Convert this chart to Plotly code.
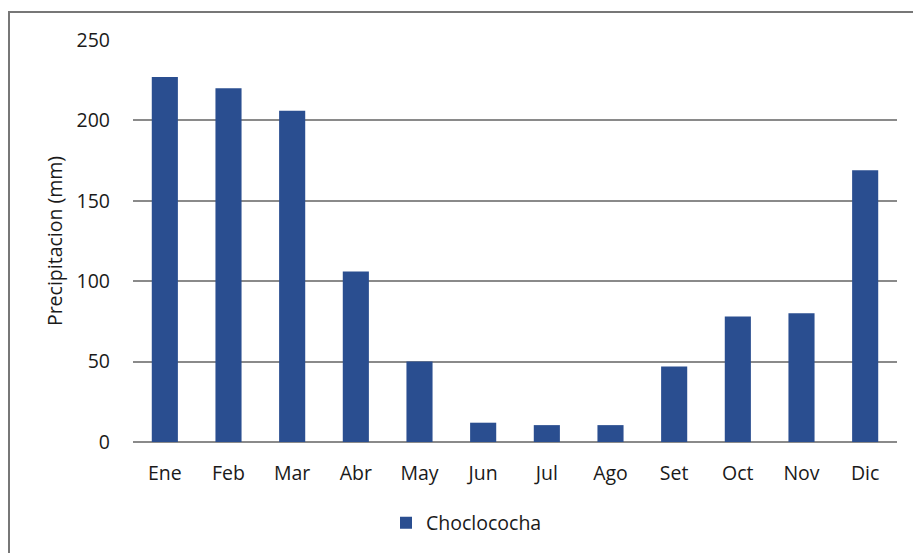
import plotly.graph_objects as go

months = ["Ene", "Feb", "Mar", "Abr", "May", "Jun", "Jul", "Ago", "Set", "Oct", "Nov", "Dic"]
precip = [227, 220, 206, 106, 50, 12, 10.5, 10.5, 47, 78, 80, 169]
series_name = "Choclococha"
y_ticks = [0, 50, 100, 150, 200, 250]

W, H = 913, 553
L, R, T, B = 133, 16, 40, 110
pw, ph = W - L - R, H - T - B

fig = go.Figure()
fig.add_trace(go.Bar(
    x=months, y=precip, name=series_name,
    marker=dict(color="#2A4E90", line=dict(width=0)),
))

font = "'Open Sans', sans-serif"
fs = 19.5
fig.update_layout(
    width=W, height=H,
    margin=dict(l=L, r=R, t=T, b=B),
    paper_bgcolor="white", plot_bgcolor="white",
    bargap=0.59,
    font=dict(family=font, size=fs, color="#1a1a1a"),
    showlegend=True,
    legend=dict(orientation="h", x=(386 - L) / pw, xanchor="left", y=-0.15, yanchor="top",
                font=dict(size=fs, color="#1a1a1a"), itemwidth=30),
    xaxis=dict(showgrid=False, showline=False, ticks="", tickfont=dict(size=fs),
               ticklabelstandoff=17),
    yaxis=dict(range=[0, 250], tickvals=y_ticks, showgrid=True, gridcolor="#8a8a8a",
               gridwidth=2, zeroline=True, zerolinecolor="#8a8a8a", zerolinewidth=2,
               showline=False, ticks="", ticklabelstandoff=22,
               title=dict(text="Precipitacion (mm)", font=dict(size=fs), standoff=8)),
    shapes=[dict(type="rect", xref="paper", yref="paper",
                 x0=(9 - L) / pw, x1=(W + 5 - L) / pw,
                 y0=(T + ph - (H + 5)) / ph, y1=(T + ph - 12) / ph,
                 line=dict(color="#777", width=2), fillcolor="rgba(0,0,0,0)", layer="below")],
)

fig.write_html("out.html")
